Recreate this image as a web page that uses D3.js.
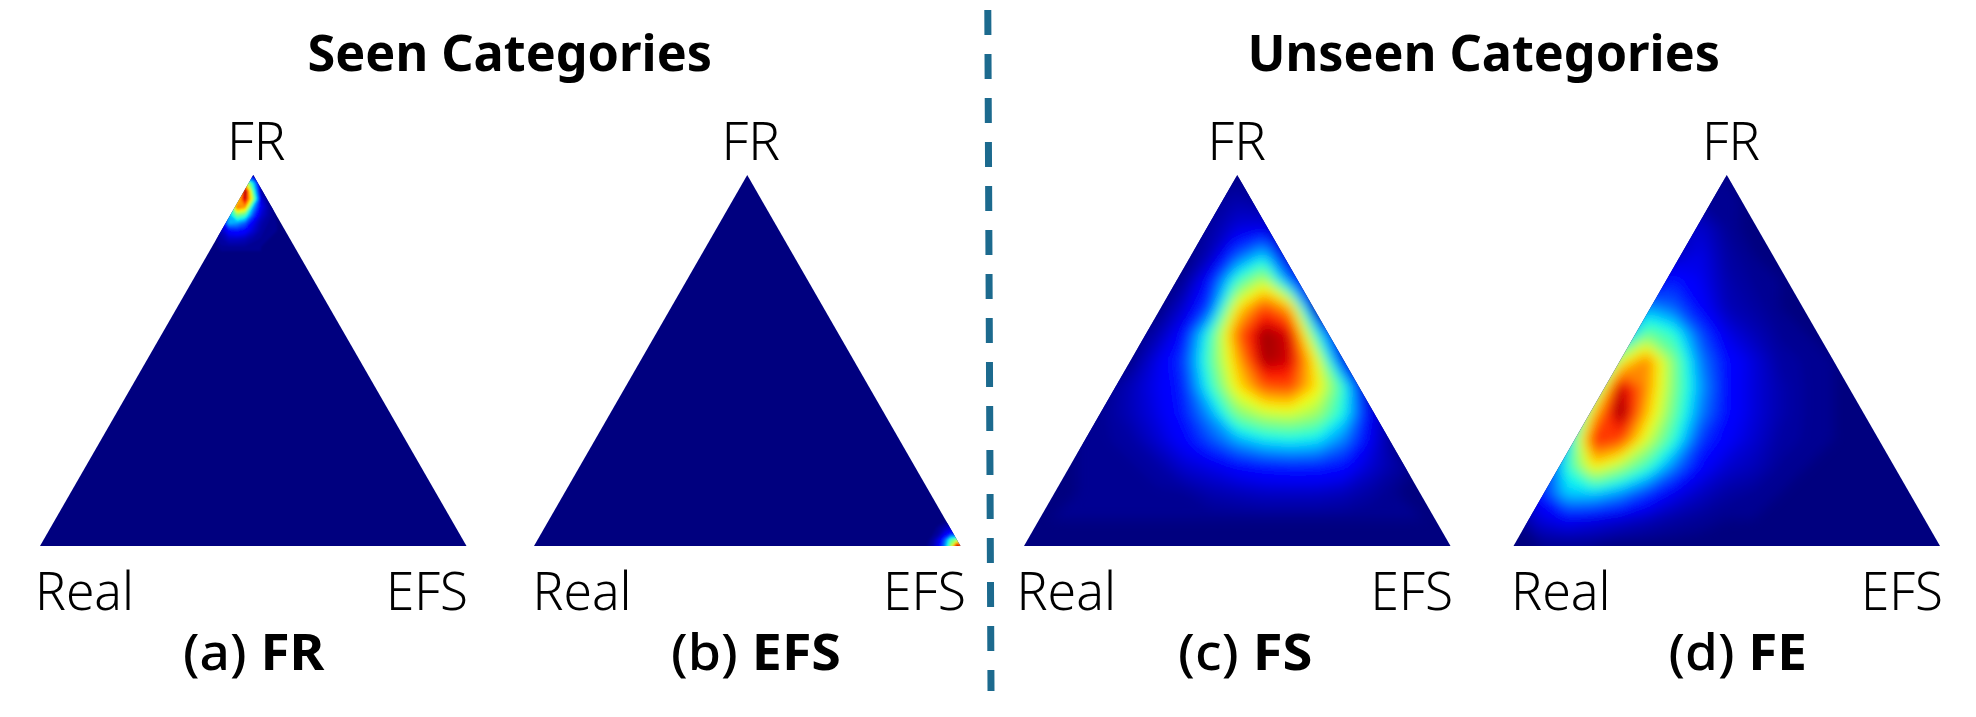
<!DOCTYPE html>
<html>
<head>
<meta charset="utf-8">
<script src="https://cdn.jsdelivr.net/npm/d3@7"></script>
<style>
  html, body { margin: 0; background: #fff; }
  svg { display: block; }
</style>
</head>
<body>
<div id="chart"></div>
<script>
// densities, in percent of the panel peak, row by row from the top
const densityFR = [
  [0,0,0,0,2,0,0,0,0],
  [0,0,0,65,35,0,0,0,0],
  [0,0,25,100,45,3,0,0,0],
  [0,10,60,96,55,8,0,0,0],
  [0,30,80,75,30,10,3,0,0],
  [0,30,50,44,20,7,3,0,0],
  [5,30,28,22,10,4,2,1,0],
  [5,12,14,12,7,3,1,1,0],
  [3,6,6,5,3,2,1,0,0],
  [2,2,2,2,1,1,0,0,0]
];
const densityEFS = [
  [0,0,0,0,0,0,0,0,0],
  [0,0,0,0,0,0,0,0,0],
  [0,0,0,0,1,0,0,0,0],
  [0,0,0,2,5,7,0,0,0],
  [0,0,1,3,10,16,12,0,0],
  [0,0,3,9,22,45,55,12,0],
  [0,1,4,11,26,55,100,85,0],
  [0,1,3,8,20,45,85,65,0]
];
const densityFS = [
  [0,0,0,0,0,0,0,0,1,0,0,0,0,0,0,0,0],
  [0,0,0,0,0,0,0,2,4,2,0,0,0,0,0,0,0],
  [0,0,0,0,0,0,0,3,8,9,0,0,0,0,0,0,0],
  [0,0,0,0,0,0,0,5,20,32,3,0,0,0,0,0,0],
  [0,0,0,0,0,0,2,14,42,58,22,0,0,0,0,0,0],
  [0,0,0,0,0,0,7,20,66,84,72,0,0,0,0,0,0],
  [0,0,0,0,0,4,13,42,80,98,92,38,0,0,0,0,0],
  [0,0,0,0,1,9,18,45,72,97,93,62,10,0,0,0,0],
  [0,0,0,1,5,10,16,40,66,82,84,66,40,0,0,0,0],
  [0,0,0,2,5,9,15,28,50,58,60,54,37,10,0,0,0],
  [0,0,1,2,3,7,12,20,29,35,37,35,25,10,0,0,0],
  [0,0,1,2,2,3,7,9,12,14,15,15,13,7,3,0,0],
  [0,0,1,1,1,2,2,4,5,6,6,6,5,3,1,0,0],
  [0,1,1,1,1,1,1,1,1,1,1,1,1,1,1,1,0],
  [0,0,0,0,0,0,0,0,0,0,0,0,0,0,0,0,0]
];
const densityFE = [
  [0,0,0,0,0,0,0,0,1,0,0,0,0,0,0,0,0],
  [0,0,0,0,0,0,0,2,2,0,0,0,0,0,0,0,0],
  [0,0,0,0,0,0,4,7,2,0,0,0,0,0,0,0,0],
  [0,0,0,0,0,0,5,9,3,1,0,0,0,0,0,0,0],
  [0,0,0,0,0,5,15,10,4,2,1,0,0,0,0,0,0],
  [0,0,0,0,5,28,22,12,5,3,1,0,0,0,0,0,0],
  [0,0,0,0,20,48,40,20,9,5,2,1,0,0,0,0,0],
  [0,0,0,10,60,78,50,25,13,8,3,2,1,0,0,0,0],
  [0,0,0,40,96,76,50,28,13,8,4,2,1,0,0,0,0],
  [0,0,10,70,100,71,47,25,13,8,4,2,1,0,0,0,0],
  [0,0,30,88,85,60,40,18,11,7,3,2,1,0,0,0,0],
  [0,5,40,66,55,42,25,12,7,5,2,1,0,0,0,0,0],
  [0,15,33,33,27,18,10,6,3,2,1,0,0,0,0,0,0],
  [1,8,11,9,7,5,3,2,1,1,0,0,0,0,0,0,0],
  [0,1,1,1,0,0,0,0,0,0,0,0,0,0,0,0,0]
];

const vertexLabels = ["FR", "Real", "EFS"];
const captionTags = ["(a)", "(b)", "(c)", "(d)"];
const captionNames = ["FR", "EFS", "FS", "FE"];
const groupTitles = ["Seen Categories", "Unseen Categories"];

// jet colormap
const jetStops = [0, 0.11, 0.125, 0.34, 0.375, 0.64, 0.66, 0.89, 0.91, 1];
const jetColors = ["#00007f", "#0000ff", "#0000ff", "#00dbff", "#14ffe6", "#f7ff08", "#ffeb00", "#ff1600", "#e80000", "#7f0000"];

const width = 1976, height = 717;
const triWidth = 426.5, triHeight = 371, triTop = 175;
const titleFont = "'Noto Sans', sans-serif";

// left is the x of the triangle's left corner, win the part of the triangle the grid covers
const panels = [
  {density: densityFR, left: 40, winX: [181, 245], winY: [0, 72], blur: 1.2,
   fr: [227, 58.5], real: [35, 99], efs: [386, 82], cap: [183, 141.5]},
  {density: densityEFS, left: 534, winX: [387, 435], winY: [335, 377], blur: 0.8,
   fr: [721.6, 58.5], real: [532.6, 99], efs: [883, 83], cap: [671, 170]},
  {density: densityFS, left: 1024, winX: [0, 426.5], winY: [0, 371], blur: 6,
   fr: [1207.4, 58.5], real: [1016.5, 99.5], efs: [1370.6, 82.5], cap: [1178, 134.5]},
  {density: densityFE, left: 1513.5, winX: [0, 426.5], winY: [0, 371], blur: 6,
   fr: [1702, 58], real: [1511, 99.7], efs: [1861, 82], cap: [1668.5, 138.5]}
];
const titleBoxes = [[307.5, 404.5], [1247.5, 472.5]];

const svg = d3.select("#chart").append("svg")
    .attr("width", width)
    .attr("height", height);

const jet = d3.scaleLinear().domain(jetStops).range(jetColors);
const levels = d3.range(0.01, 1.0, 0.0125);
const defs = svg.append("defs");

function drawPanel(panel, i) {
    const g = svg.append("g").attr("transform", "translate(" + panel.left + "," + triTop + ")");
    const corners = [[triWidth / 2, 0], [triWidth, triHeight], [0, triHeight]];

    defs.append("clipPath").attr("id", "tri" + i)
        .append("polygon").attr("points", corners.join(" "));
    defs.append("filter").attr("id", "soften" + i)
        .attr("x", "-5%").attr("y", "-5%").attr("width", "110%").attr("height", "110%")
        .append("feGaussianBlur").attr("stdDeviation", panel.blur);

    g.append("polygon")
        .attr("points", corners.join(" "))
        .attr("fill", jet(0));

    const rows = panel.density.length, cols = panel.density[0].length;
    const xScale = d3.scaleLinear().domain([0, cols - 1]).range(panel.winX);
    const yScale = d3.scaleLinear().domain([0, rows - 1]).range(panel.winY);
    const path = d3.geoPath(d3.geoTransform({
        point(x, y) { this.stream.point(xScale(x - 0.5), yScale(y - 0.5)); }
    }));

    const contours = d3.contours()
        .size([cols, rows])
        .smooth(true)
        .thresholds(levels)(panel.density.flat().map(d => d / 100));

    g.append("g")
        .attr("clip-path", "url(#tri" + i + ")")
        .append("g")
        .attr("filter", "url(#soften" + i + ")")
        .selectAll("path")
        .data(contours)
        .join("path")
        .attr("d", path)
        .attr("fill", d => jet(d.value + 0.006));
}

function addText(box, baseline, size, weight, parts) {
    const t = svg.append("text")
        .attr("x", box[0])
        .attr("y", baseline)
        .attr("textLength", box[1])
        .attr("lengthAdjust", "spacingAndGlyphs")
        .attr("font-family", titleFont)
        .attr("font-size", size)
        .attr("font-weight", weight)
        .attr("fill", "#000");
    parts.forEach(p => t.append("tspan").attr("font-weight", p.weight).text(p.text));
}

panels.forEach((panel, i) => {
    drawPanel(panel, i);
    addText(panel.fr, 160, 53, 300, [{text: vertexLabels[0], weight: 300}]);
    addText(panel.real, 610, 53, 300, [{text: vertexLabels[1], weight: 300}]);
    addText(panel.efs, 610, 53, 300, [{text: vertexLabels[2], weight: 300}]);
    addText(panel.cap, 669.5, 51, 700, [
        {text: captionTags[i] + " ", weight: 500},
        {text: captionNames[i], weight: 700}
    ]);
});

groupTitles.forEach((title, i) => {
    addText(titleBoxes[i], 71, 51, 700, [{text: title, weight: 700}]);
});

// separator between seen and unseen
svg.append("line")
    .attr("x1", 987.8).attr("y1", 10)
    .attr("x2", 991).attr("y2", 691)
    .attr("stroke", "#1c6a8e")
    .attr("stroke-width", 7)
    .attr("stroke-dasharray", "25 19");
</script>
</body>
</html>
